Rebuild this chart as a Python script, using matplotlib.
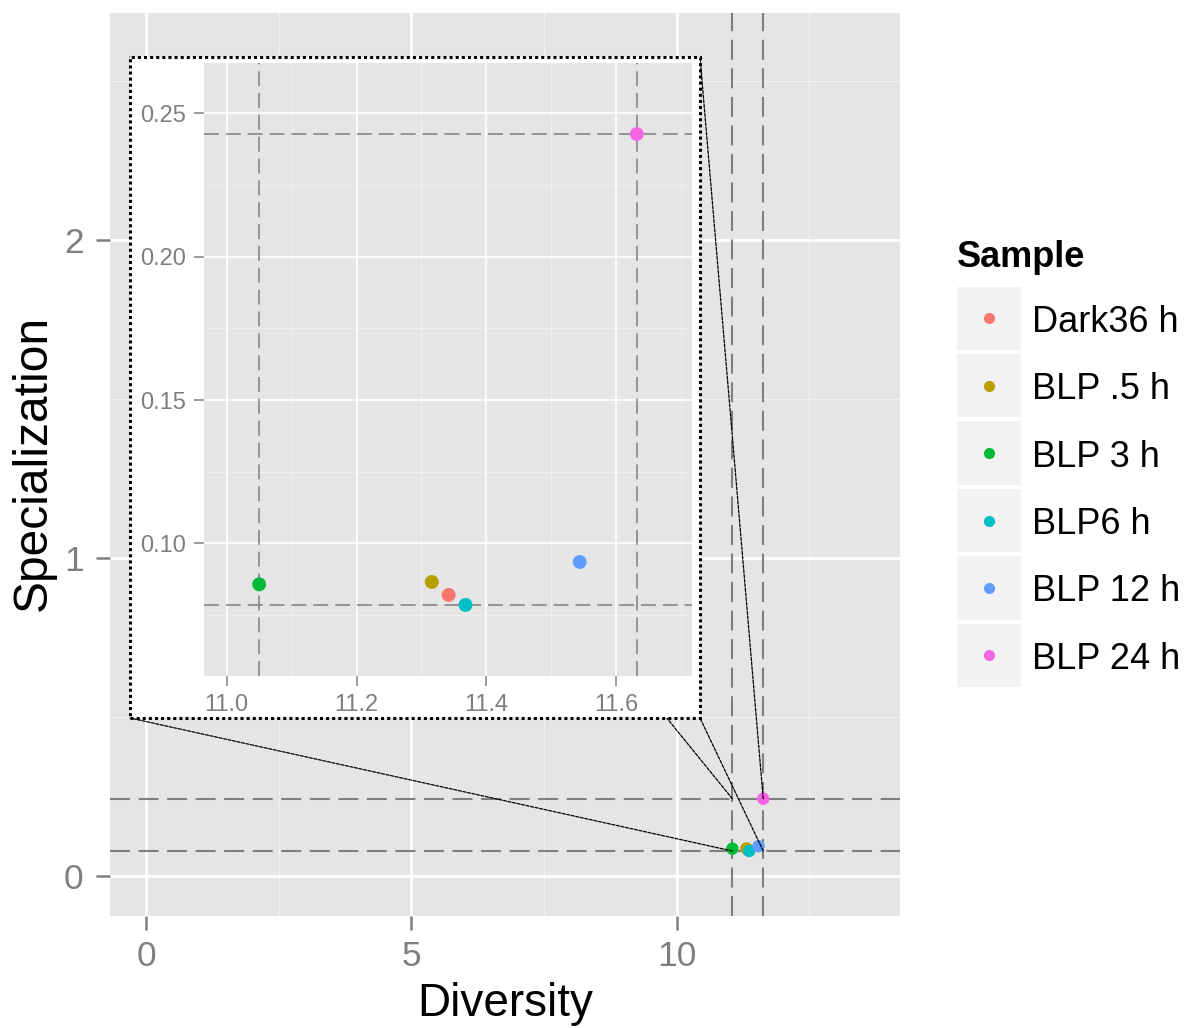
import matplotlib
matplotlib.use('Agg')
import matplotlib.pyplot as plt
from matplotlib.patches import Rectangle, ConnectionPatch
from matplotlib.lines import Line2D

# ---- data ----
samples = ['Dark36 h', 'BLP .5 h', 'BLP 3 h', 'BLP6 h', 'BLP 12 h', 'BLP 24 h']
diversity = [11.342, 11.316, 11.050, 11.368, 11.544, 11.632]
specialization = [0.0820, 0.0865, 0.0857, 0.0785, 0.0935, 0.2428]
colors = ['#F8766D', '#B79F00', '#00BA38', '#00BFC4', '#619CFF', '#F564E3']
main_xticks = [0, 5, 10]
main_yticks = [0, 1, 2]
inset_xticks = [11.0, 11.2, 11.4, 11.6]
inset_yticks = [0.10, 0.15, 0.20, 0.25]
inset_xticklabels = ['11.0', '11.2', '11.4', '11.6']
inset_yticklabels = ['0.10', '0.15', '0.20', '0.25']

plt.rcParams['font.family'] = ['Liberation Sans', 'DejaVu Sans']

W, H = 1189, 1028
fig = plt.figure(figsize=(W / 100, H / 100), dpi=100)
fig.patch.set_facecolor('white')


def fx(px):
    return px / W


def fy(py):
    return 1 - py / H


PANEL = '#E5E5E5'
MINOR = '#F2F2F2'
GREY = '#7F7F7F'

# ---- main axes ----
ax = fig.add_axes([fx(110), fy(916), fx(900) - fx(110), fy(13) - fy(916)])
ax.set_facecolor(PANEL)
for s in ax.spines.values():
    s.set_visible(False)
ax.set_xlim(-0.679, 14.21)
ax.set_ylim(-0.126, 2.714)
ax.set_xticks(main_xticks)
ax.set_yticks(main_yticks)
ax.set_xticks([2.5, 7.5, 12.5], minor=True)
ax.set_yticks([0.5, 1.5, 2.5], minor=True)
ax.grid(which='major', color='white', lw=1.9)
ax.grid(which='minor', color=MINOR, lw=0.9)
ax.set_axisbelow(True)
ax.tick_params(which='major', length=10, width=1.8, color=GREY,
               labelcolor=GREY, labelsize=25.5, pad=7)
ax.tick_params(axis='y', pad=9)
ax.tick_params(which='minor', length=0)

xmin, xmax = min(diversity), max(diversity)
ymin, ymax = min(specialization), max(specialization)
for xv in (xmin, xmax):
    ax.axvline(xv, color=GREY, lw=1.5, dashes=(9.6, 4.1), zorder=1.5)
for yv in (ymin, ymax):
    ax.axhline(yv, color=GREY, lw=1.5, dashes=(9.6, 4.1), zorder=1.5)
for x, y, c in zip(diversity, specialization, colors):
    ax.scatter([x], [y], s=80, color=c, edgecolors='none', zorder=3)

fig.text(fx(505), fy(1004), 'Diversity', fontsize=33, ha='center', va='center')
fig.text(fx(33), fy(463), 'Specialization', fontsize=34.5, rotation=90,
         ha='center', va='center')

# ---- inset box and connectors ----
bx0, bx1, by0, by1 = 130, 700, 57, 718
box_fill = Rectangle((fx(bx0), fy(by1)), fx(bx1) - fx(bx0), fy(by0) - fy(by1),
                     transform=fig.transFigure, facecolor='white',
                     edgecolor='none', zorder=2)
fig.add_artist(box_fill)
box_edge = Rectangle((fx(bx0), fy(by1)), fx(bx1) - fx(bx0), fy(by0) - fy(by1),
                     transform=fig.transFigure, facecolor='none',
                     edgecolor='black', lw=2.2, linestyle=(0, (1, 1)), zorder=5)
fig.add_artist(box_edge)

corners = [((xmin, ymax), (bx0, by0)), ((xmax, ymax), (bx1, by0)),
           ((xmin, ymin), (bx0, by1)), ((xmax, ymin), (bx1, by1))]
for (dx, dy), (px, py) in corners:
    cp = ConnectionPatch(xyA=(dx, dy), coordsA=ax.transData,
                         xyB=(fx(px), fy(py)), coordsB=fig.transFigure,
                         color='black', lw=0.9, linestyle=(0, (2.5, 1.2)),
                         zorder=1.5)
    fig.add_artist(cp)

# ---- inset axes ----
axi = fig.add_axes([fx(204), fy(676), fx(692) - fx(204), fy(63) - fy(676)],
                   zorder=3)
axi.set_facecolor(PANEL)
for s in axi.spines.values():
    s.set_visible(False)
axi.set_xlim(10.965, 11.717)
axi.set_ylim(0.0537, 0.2676)
axi.set_xticks(inset_xticks)
axi.set_xticklabels(inset_xticklabels)
axi.set_yticks(inset_yticks)
axi.set_yticklabels(inset_yticklabels)
axi.set_xticks([11.1, 11.3, 11.5, 11.7], minor=True)
axi.set_yticks([0.075, 0.125, 0.175, 0.225], minor=True)
axi.grid(which='major', color='white', lw=1.2)
axi.grid(which='minor', color=MINOR, lw=0.6)
axi.set_axisbelow(True)
axi.tick_params(which='major', length=7, width=1.1, color=GREY,
                labelcolor=GREY, labelsize=17, pad=6)
axi.tick_params(axis='y', pad=6)
axi.tick_params(which='minor', length=0)
for xv in (xmin, xmax):
    axi.axvline(xv, color=GREY, lw=1.1, dashes=(9.8, 4.5), zorder=1.5)
for yv in (ymin, ymax):
    axi.axhline(yv, color=GREY, lw=1.1, dashes=(9.8, 4.5), zorder=1.5)
for x, y, c in zip(diversity, specialization, colors):
    axi.scatter([x], [y], s=100, color=c, edgecolors='none', zorder=3)

# ---- legend ----
fig.text(fx(957), fy(267), 'Sample', fontsize=26, fontweight='bold',
         ha='left', va='baseline')
top0, step, kh, kw = 286.7, 67.4, 63.3, 64
for i, (lab, c) in enumerate(zip(samples, colors)):
    t = top0 + i * step
    fig.add_artist(Rectangle((fx(957), fy(t + kh)), fx(957 + kw) - fx(957),
                             fy(t) - fy(t + kh), transform=fig.transFigure,
                             facecolor=MINOR, edgecolor='none'))
    fig.add_artist(Line2D([fx(989.3)], [fy(t + kh / 2)], transform=fig.transFigure,
                          marker='o', markersize=8, color=c, markeredgewidth=0,
                          linestyle='none'))
    fig.text(fx(1032), fy(t + kh / 2), lab, fontsize=26, ha='left',
             va='center_baseline')

fig.savefig('out.png', dpi=100)
